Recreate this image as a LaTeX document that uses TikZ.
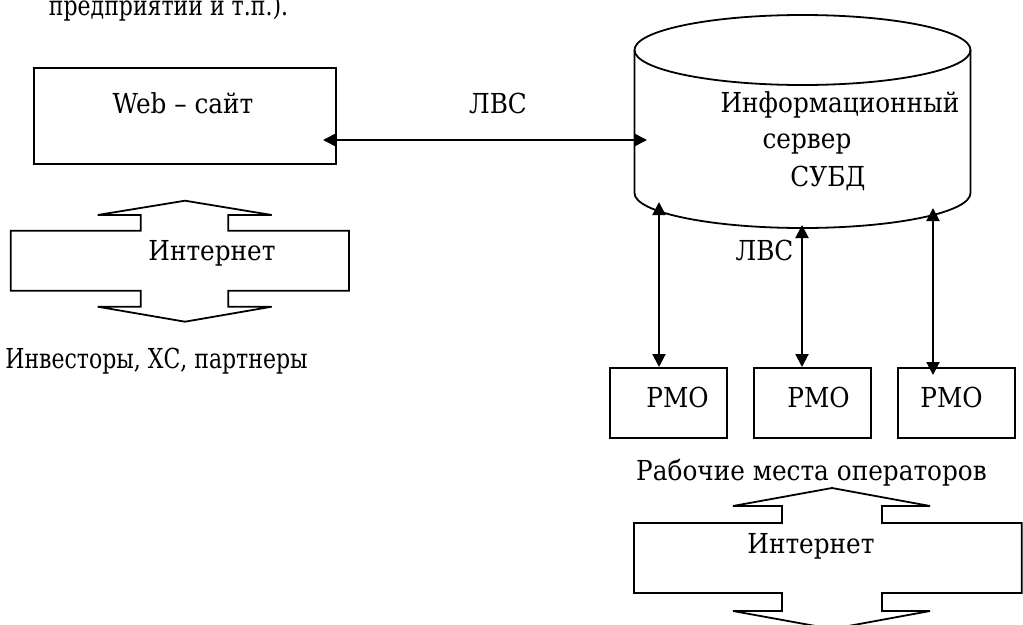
\documentclass[tikz,border=0pt]{standalone}
\usepackage{fontspec}
\setmainfont{DejaVu Serif}[FakeStretch=0.9]
\newfontfamily\narrowserif{DejaVu Serif}[FakeStretch=0.8]
\usetikzlibrary{arrows.meta}
\begin{document}
\begin{tikzpicture}[x=1pt,y=-1pt,
  lbl/.style={inner sep=0pt,anchor=base,font=\fontsize{27.5}{32}\selectfont},
  narrowlbl/.style={lbl,font=\narrowserif\fontsize{27.5}{32}\selectfont},
  boxshape/.style={draw,line width=2pt,inner sep=0pt},
  outline/.style={draw,line width=1.8pt,line join=miter},
  conn/.style={line width=2pt,{Triangle[length=13pt,width=13pt]}-{Triangle[length=13pt,width=13pt]}}]
\useasboundingbox (0,0) rectangle (1023,624);
\fill[white] (0,0) rectangle (1023,624);

% top cut-off text
\node[narrowlbl] (toptext) at (168.5,15) {предприятий и т.п.).};

% Web site box
\node[boxshape,minimum width=302pt,minimum height=96pt] (web) at (185,116) {};
\node[lbl] (webtxt) at (183,113) {Web – сайт};

% LAN label
\node[lbl] (lan1) at (498,113) {ЛВС};

% Cylinder (information server)
\draw[outline] (634.5,50) -- (634.5,193) arc[start angle=180,end angle=360,x radius=168pt,y radius=35pt] -- (970.5,50);
\draw[outline] (802.5,50) ellipse [x radius=168pt,y radius=35pt];
\node[lbl] (srv1) at (840,112) {Информационный};
\node[lbl] (srv2) at (807,148) {сервер};
\node[lbl] (srv3) at (828,186) {СУБД};

% horizontal connector
\coordinate (hA) at (323,140);
\coordinate (hB) at (647,140);
\draw[conn] (hA) -- (hB);

% left Internet double arrow
\draw[outline] (10.7,230.7) -- (140.7,230.7) -- (140.7,215) -- (97.7,215) -- (185,200.7) -- (271.7,215) -- (228.3,215) -- (228.3,230.7) -- (349,230.7) -- (349,290.7) -- (228.3,290.7) -- (228.3,306.7) -- (271.7,306.7) -- (185,321.7) -- (97.7,306.7) -- (140.7,306.7) -- (140.7,290.7) -- (10.7,290.7) -- cycle;
\node[lbl] (inet1) at (212,260) {Интернет};
\node[narrowlbl] (invest) at (156.5,368) {Инвесторы, ХС, партнеры};

% LAN label 2
\node[lbl] (lan2) at (764.5,260) {ЛВС};

% workstation boxes
\node[boxshape,minimum width=117pt,minimum height=70pt] (pmo1) at (668.5,403) {};
\node[boxshape,minimum width=117pt,minimum height=70pt] (pmo2) at (812.5,403) {};
\node[boxshape,minimum width=117pt,minimum height=70pt] (pmo3) at (956.5,403) {};
\node[lbl] (pmo1t) at (677.5,407) {РМО};
\node[lbl] (pmo2t) at (818.5,407) {РМО};
\node[lbl] (pmo3t) at (951.5,407) {РМО};

% vertical connectors
\coordinate (v1a) at (659,367);
\coordinate (v1b) at (659,202);
\coordinate (v2a) at (802,367);
\coordinate (v2b) at (802,225);
\coordinate (v3a) at (933,375);
\coordinate (v3b) at (933,208);
\draw[conn] (v1a) -- (v1b);
\draw[conn] (v2a) -- (v2b);
\draw[conn] (v3a) -- (v3b);

\node[lbl] (ops) at (811.5,480) {Рабочие места операторов};

% bottom Internet double arrow
\draw[outline] (634,523) -- (782,523) -- (782,506) -- (733,506) -- (832,488) -- (930,506) -- (882,506) -- (882,523) -- (1021.7,523) -- (1021.7,593) -- (882,593) -- (882,611) -- (930,611) -- (832,629) -- (733,611) -- (782,611) -- (782,593) -- (634,593) -- cycle;
\node[lbl] (inet2) at (811,553) {Интернет};
\end{tikzpicture}
\end{document}
